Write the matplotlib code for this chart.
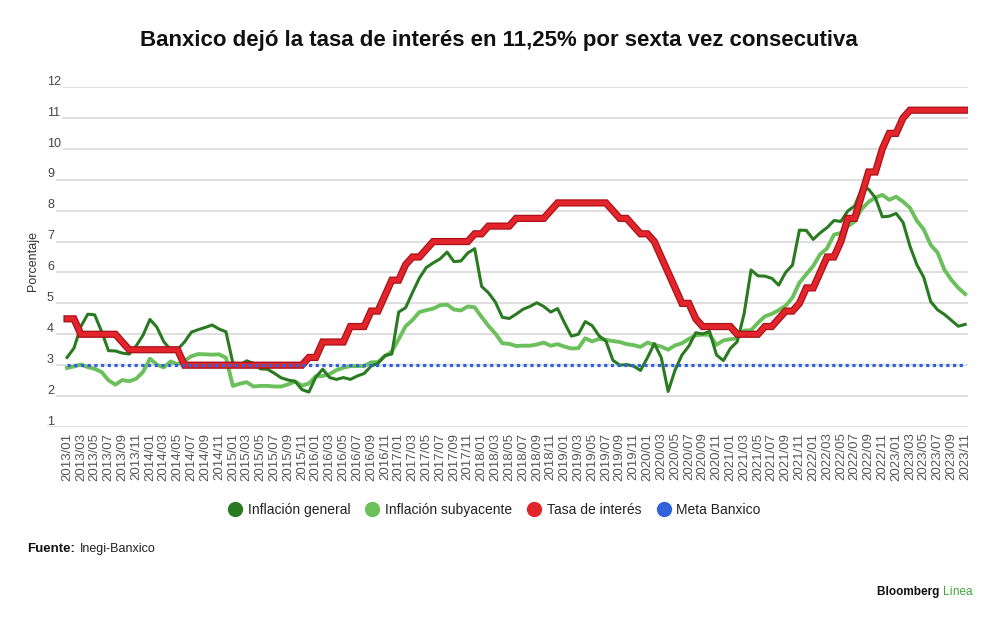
import matplotlib
matplotlib.use("Agg")
import matplotlib.pyplot as plt
import matplotlib.patheffects as pe
from matplotlib.lines import Line2D
import numpy as np
import pandas as pd

# monthly series, 2013/01 .. 2023/11
months = [p.strftime("%Y/%m") for p in pd.period_range("2013-01", "2023-11", freq="M")]

inflacion_general = [
    3.25, 3.55, 4.25, 4.65, 4.63, 4.09, 3.47, 3.46, 3.39, 3.36, 3.62, 3.97,
    4.48, 4.23, 3.76, 3.50, 3.51, 3.75, 4.07, 4.15, 4.22, 4.30, 4.17, 4.08,
    3.07, 3.00, 3.14, 3.06, 2.88, 2.87, 2.74, 2.59, 2.52, 2.48, 2.21, 2.13,
    2.61, 2.87, 2.60, 2.54, 2.60, 2.54, 2.65, 2.73, 2.97, 3.06, 3.31, 3.36,
    4.72, 4.86, 5.35, 5.82, 6.16, 6.31, 6.44, 6.66, 6.35, 6.37, 6.63, 6.77,
    5.55, 5.34, 5.04, 4.55, 4.51, 4.65, 4.81, 4.90, 5.02, 4.90, 4.72, 4.83,
    4.37, 3.94, 4.00, 4.41, 4.28, 3.95, 3.78, 3.16, 3.00, 3.02, 2.97, 2.83,
    3.24, 3.70, 3.25, 2.15, 2.84, 3.33, 3.62, 4.05, 4.01, 4.09, 3.33, 3.15,
    3.54, 3.76, 4.67, 6.08, 5.89, 5.88, 5.81, 5.59, 6.00, 6.24, 7.37, 7.36,
    7.07, 7.28, 7.45, 7.68, 7.65, 7.99, 8.15, 8.70, 8.70, 8.41, 7.80, 7.82,
    7.91, 7.62, 6.85, 6.25, 5.84, 5.06, 4.79, 4.64, 4.45, 4.26, 4.32,
]

inflacion_subyacente = [
    2.91, 2.96, 3.02, 2.94, 2.88, 2.78, 2.51, 2.37, 2.52, 2.48, 2.56, 2.78,
    3.21, 3.02, 2.93, 3.12, 3.03, 3.14, 3.29, 3.36, 3.35, 3.34, 3.35, 3.24,
    2.33, 2.40, 2.45, 2.31, 2.33, 2.33, 2.31, 2.31, 2.38, 2.47, 2.34, 2.41,
    2.64, 2.65, 2.71, 2.84, 2.92, 2.97, 2.97, 2.97, 3.09, 3.10, 3.29, 3.44,
    3.84, 4.26, 4.46, 4.72, 4.78, 4.83, 4.94, 4.96, 4.80, 4.77, 4.90, 4.87,
    4.56, 4.27, 4.02, 3.71, 3.69, 3.62, 3.63, 3.63, 3.67, 3.73, 3.63, 3.68,
    3.60, 3.54, 3.55, 3.87, 3.77, 3.85, 3.82, 3.78, 3.75, 3.68, 3.65, 3.59,
    3.73, 3.66, 3.60, 3.50, 3.64, 3.71, 3.85, 3.97, 3.99, 3.98, 3.66, 3.80,
    3.84, 3.87, 4.12, 4.13, 4.37, 4.58, 4.66, 4.78, 4.92, 5.19, 5.67, 5.94,
    6.21, 6.59, 6.78, 7.22, 7.28, 7.49, 7.65, 8.05, 8.28, 8.42, 8.51, 8.35,
    8.45, 8.29, 8.09, 7.67, 7.39, 6.89, 6.64, 6.08, 5.76, 5.50, 5.30,
]

tasa_interes = [
    4.50, 4.50, 4.00, 4.00, 4.00, 4.00, 4.00, 4.00, 3.75, 3.50, 3.50, 3.50,
    3.50, 3.50, 3.50, 3.50, 3.50, 3.00, 3.00, 3.00, 3.00, 3.00, 3.00, 3.00,
    3.00, 3.00, 3.00, 3.00, 3.00, 3.00, 3.00, 3.00, 3.00, 3.00, 3.00, 3.25,
    3.25, 3.75, 3.75, 3.75, 3.75, 4.25, 4.25, 4.25, 4.75, 4.75, 5.25, 5.75,
    5.75, 6.25, 6.50, 6.50, 6.75, 7.00, 7.00, 7.00, 7.00, 7.00, 7.00, 7.25,
    7.25, 7.50, 7.50, 7.50, 7.50, 7.75, 7.75, 7.75, 7.75, 7.75, 8.00, 8.25,
    8.25, 8.25, 8.25, 8.25, 8.25, 8.25, 8.25, 8.00, 7.75, 7.75, 7.50, 7.25,
    7.25, 7.00, 6.50, 6.00, 5.50, 5.00, 5.00, 4.50, 4.25, 4.25, 4.25, 4.25,
    4.25, 4.00, 4.00, 4.00, 4.00, 4.25, 4.25, 4.50, 4.75, 4.75, 5.00, 5.50,
    5.50, 6.00, 6.50, 6.50, 7.00, 7.75, 7.75, 8.50, 9.25, 9.25, 10.00, 10.50,
    10.50, 11.00, 11.25, 11.25, 11.25, 11.25, 11.25, 11.25, 11.25, 11.25, 11.25,
]

meta_banxico = 3.0
y_ticks = [1, 2, 3, 4, 5, 6, 7, 8, 9, 10, 11, 12]

C_GENERAL = "#2a7a22"
C_SUBY = "#6cc05c"
C_TASA = "#e3242b"
C_TASA_EDGE = "#a8121a"
C_META = "#2f62dc"

plt.rcParams["font.family"] = ["Liberation Sans", "DejaVu Sans"]

fig = plt.figure(figsize=(10, 6.21), dpi=100)
ax = fig.add_axes([0.047, 0.3124, 0.921, 0.5475])

x = np.arange(len(months))

ax.plot(x, inflacion_subyacente, color=C_SUBY, lw=2.8, solid_joinstyle="round", zorder=3)
ax.plot(x, inflacion_general, color=C_GENERAL, lw=2.2, solid_joinstyle="round", zorder=4)
ax.plot(x, tasa_interes, color=C_TASA, lw=3.4, zorder=5, solid_joinstyle="miter",
        path_effects=[pe.Stroke(linewidth=5.2, foreground=C_TASA_EDGE), pe.Normal()])
ax.hlines(meta_banxico, x[0], x[-1], color=C_META, lw=2.3,
          linestyles=(0, (1, 1.1)), zorder=6)

ax.set_xlim(-2.9, 130.4)
ax.set_ylim(1, 12)
ax.set_yticks(y_ticks)
ax.set_yticklabels([])
ax.tick_params(axis="y", length=0)
ax.grid(axis="y", color="#d6d6d6", lw=1.1, zorder=0)
for s in ax.spines.values():
    s.set_visible(False)

for v in y_ticks:
    ax.text(0.0, v + 0.17, str(v), transform=ax.get_yaxis_transform(),
            ha="left", va="center", fontsize=9, color="#444444", zorder=2,
            bbox=dict(facecolor="white", edgecolor="none", pad=1.2) if v > 1 else None)

ax.set_xticks(x[::2])
ax.set_xticklabels(months[::2], rotation=90, fontsize=9.5, color="#555555")
ax.tick_params(axis="x", length=0, pad=4)

fig.text(0.033, 0.58, "Porcentaje", rotation=90, ha="center", va="center",
         fontsize=9, color="#333333")

fig.text(0.499, 0.935, "Banxico dejó la tasa de interés en 11,25% por sexta vez consecutiva",
         ha="center", va="center", fontsize=16, fontweight="bold", color="#111111")

handles = [
    Line2D([], [], ls="none", marker="o", ms=10, color=C_GENERAL),
    Line2D([], [], ls="none", marker="o", ms=10, color=C_SUBY),
    Line2D([], [], ls="none", marker="o", ms=10, color=C_TASA),
    Line2D([], [], ls="none", marker="o", ms=10, color=C_META),
]
labels = ["Inflación general", "Inflación subyacente", "Tasa de interés", "Meta Banxico"]
fig.legend(handles, labels, loc="center", bbox_to_anchor=(0.495, 0.179), ncol=4,
           frameon=False, fontsize=10, handlelength=0.8, handletextpad=0.5,
           columnspacing=1.2, labelcolor="#222222")

t_fuente = fig.text(0.027, 0.116, "Fuente:", ha="left", va="center",
                    fontsize=9.5, fontweight="bold", color="#111111")
ax.annotate("Inegi-Banxico", xy=(1, 0), xycoords=t_fuente, ha="left", va="bottom",
            fontsize=9, color="#222222", annotation_clip=False,
            xytext=(3.5, 0), textcoords="offset points")

t_linea = fig.text(0.972, 0.047, "Línea", ha="right", va="center",
                   fontsize=8.5, color="#3aa935")
ax.annotate("Bloomberg ", xy=(0, 0), xycoords=t_linea, ha="right", va="bottom",
            fontsize=8.5, fontweight="bold", color="#111111", annotation_clip=False)

fig.savefig("out.png", dpi=100)
